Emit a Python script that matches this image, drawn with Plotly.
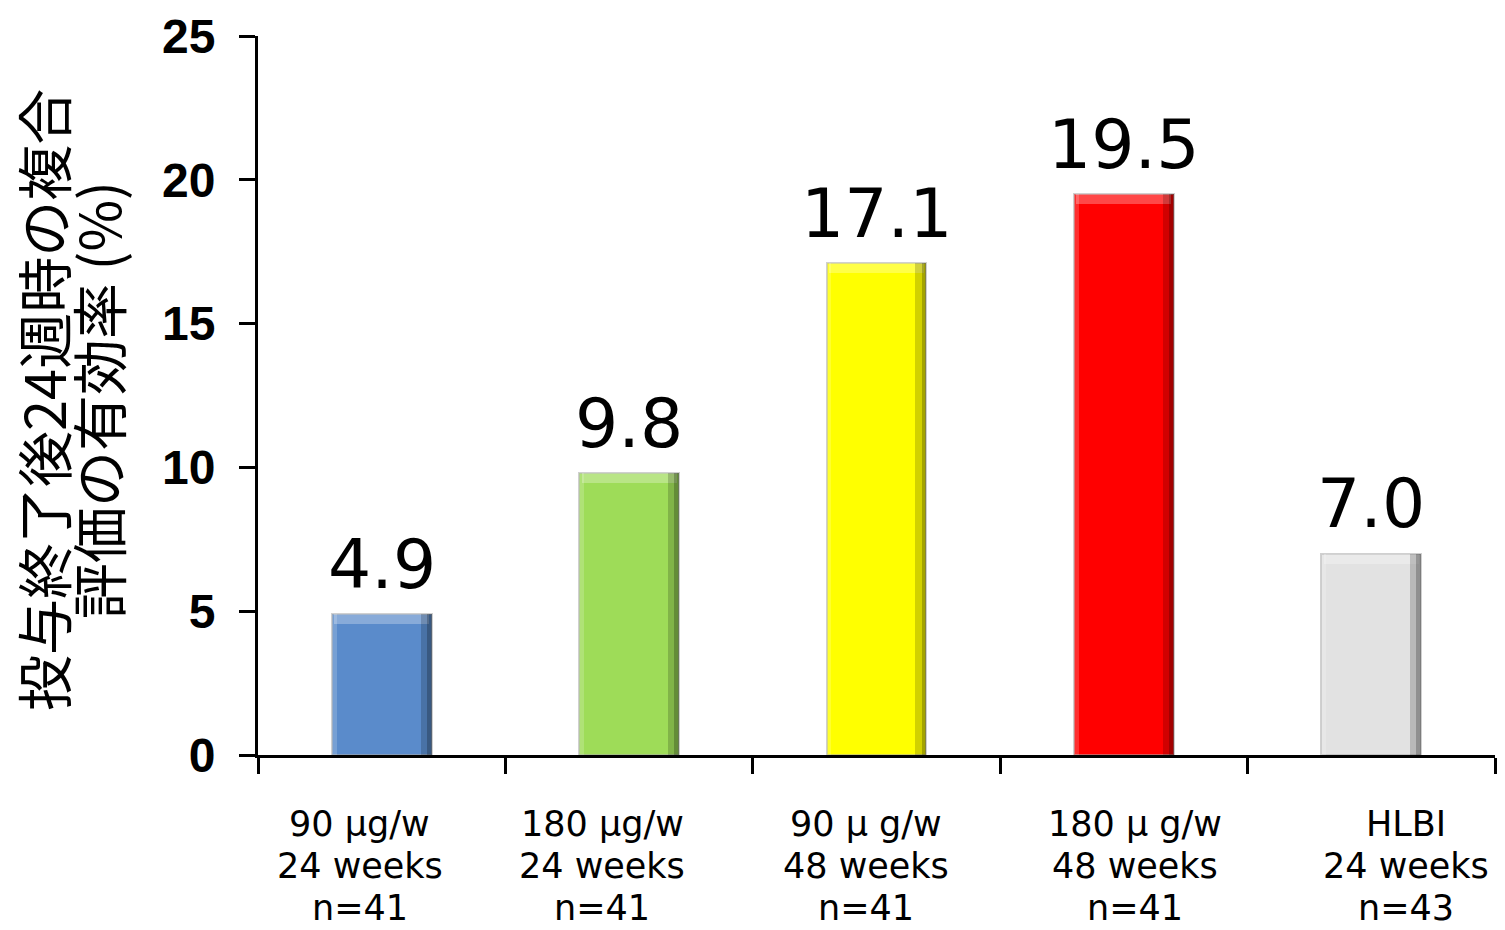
import plotly.graph_objects as go

# Efficacy rate at 24 weeks after end of treatment, by regimen
line1 = ["90 μg/w", "180 μg/w", "90 μ g/w", "180 μ g/w", "HLBI"]
line2 = ["24 weeks", "24 weeks", "48 weeks", "48 weeks", "24 weeks"]
line3 = ["n=41", "n=41", "n=41", "n=41", "n=43"]
rates = [4.9, 9.8, 17.1, 19.5, 7.0]
colors = ["#5A8BCB", "#9EDC58", "#FFFF00", "#FF0000", "#E2E2E2"]
label_shift = [-22, -27, -11, 11, 35]

W = 0.404
xs = list(range(len(rates)))

fig = go.Figure()

# main bars
fig.add_trace(go.Bar(
    x=xs, y=rates, width=W, marker=dict(color=colors, line=dict(color="rgba(170,170,170,0.55)", width=2)),
    hoverinfo="skip", showlegend=False,
))
# bevel: light top edge
fig.add_trace(go.Bar(
    x=xs, y=[0.35] * len(rates), base=[v - 0.35 for v in rates], width=W - 0.02,
    marker=dict(color="rgba(255,255,255,0.28)", line=dict(width=0)),
    hoverinfo="skip", showlegend=False,
))
# bevel: light left edge
fig.add_trace(go.Bar(
    x=xs, y=rates, width=0.02, offset=-W / 2,
    marker=dict(color="rgba(255,255,255,0.18)", line=dict(width=0)),
    hoverinfo="skip", showlegend=False,
))
# bevel: dark right edge
fig.add_trace(go.Bar(
    x=xs, y=rates, width=0.045, offset=W / 2 - 0.045,
    marker=dict(color="rgba(0,0,0,0.18)", line=dict(width=0)),
    hoverinfo="skip", showlegend=False,
))
fig.add_trace(go.Bar(
    x=xs, y=rates, width=0.02, offset=W / 2 - 0.02,
    marker=dict(color="rgba(0,0,0,0.22)", line=dict(width=0)),
    hoverinfo="skip", showlegend=False,
))

annotations = []
# value labels above bars
for x, v in zip(xs, rates):
    annotations.append(dict(
        x=x, y=v, xref="x", yref="y", text=f"{v:.1f}", showarrow=False,
        yanchor="middle", xanchor="center", yshift=50,
        font=dict(family="DejaVu Sans", size=68, color="black"),
    ))

# category labels below the axis (three lines each)
label_font = dict(family="DejaVu Sans", size=35, color="black")
for lines, ypix in ((line1, 824), (line2, 866), (line3, 908)):
    for x, t, dx in zip(xs, lines, label_shift):
        annotations.append(dict(
            x=x, y=(755 - ypix) / 719, xref="x", yref="paper", text=t, showarrow=False,
            yanchor="middle", xanchor="center", xshift=dx, font=label_font, borderpad=0,
        ))

# vertical axis title, two lines
title_font = dict(family="Noto Sans CJK JP", size=56, color="black")
for t, xpix in (("投与終了後24週時の複合", 41), ("評価の有効率 (%)", 96)):
    annotations.append(dict(
        x=(xpix - 258) / 1237, y=(755 - 400) / 719, xref="paper", yref="paper",
        text=t, textangle=-90, showarrow=False, xanchor="center", yanchor="middle",
        font=title_font,
    ))

fig.update_layout(
    width=1505, height=930,
    margin=dict(l=258, r=10, t=36, b=175),
    paper_bgcolor="white", plot_bgcolor="white",
    barmode="overlay", bargap=0,
    annotations=annotations,
    xaxis=dict(
        range=[-0.5, len(rates) - 0.5], tickmode="array",
        tickvals=[i - 0.5 for i in range(len(rates) + 1)], showticklabels=False,
        ticks="outside", ticklen=16, tickwidth=2.5, tickcolor="black",
        showline=True, linecolor="black", linewidth=3, showgrid=False, zeroline=False,
    ),
    yaxis=dict(
        range=[0, 25], dtick=5, tick0=0,
        ticks="outside", ticklen=16, tickwidth=2.5, tickcolor="black",
        showline=True, linecolor="black", linewidth=3, showgrid=False, zeroline=False,
        tickfont=dict(family="Liberation Sans", size=48, color="black", weight="bold"),
        ticklabelstandoff=14,
    ),
)

fig.write_html("out.html")
